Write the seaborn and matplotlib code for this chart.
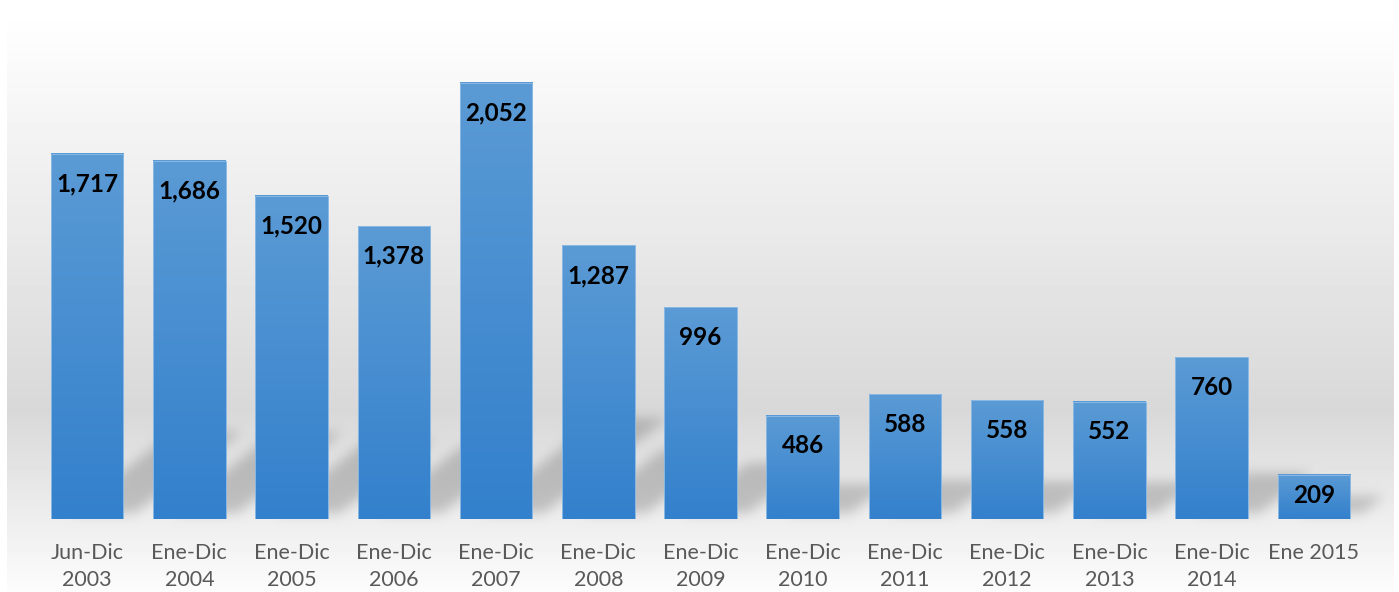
import matplotlib
matplotlib.use("Agg")
import matplotlib.pyplot as plt
import numpy as np
import pandas as pd
import seaborn as sns

# data
periods = ["Jun-Dic\n2003", "Ene-Dic\n2004", "Ene-Dic\n2005", "Ene-Dic\n2006",
           "Ene-Dic\n2007", "Ene-Dic\n2008", "Ene-Dic\n2009", "Ene-Dic\n2010",
           "Ene-Dic\n2011", "Ene-Dic\n2012", "Ene-Dic\n2013", "Ene-Dic\n2014",
           "Ene 2015"]
values = [1717, 1686, 1520, 1378, 2052, 1287, 996, 486, 588, 558, 552, 760, 209]

BAR_TOP = np.array([0x5b, 0x9b, 0xd5]) / 255
BAR_BOTTOM = np.array([0x33, 0x80, 0xcc]) / 255
YMAX = 2352

sns.set_style("white")
plt.rcParams["font.family"] = ["Lato", "DejaVu Sans"]

W, H = 1399, 592
fig = plt.figure(figsize=(W / 100, H / 100), dpi=100)

bg = fig.add_axes([0, 0, 1, 1])
bg.set_xlim(0, W)
bg.set_ylim(0, H)
bg.axis("off")

ax = fig.add_axes([36 / W, 73 / H, 1329 / W, 500 / H])
ax.patch.set_alpha(0)

df = pd.DataFrame({"periodo": periods, "casos": values})
sns.barplot(data=df, x="periodo", y="casos", order=periods, ax=ax,
            color="#4a8fd2", width=0.71, saturation=1,
            edgecolor="#8ab8e4", linewidth=0.7)
ax.set_xlim(-0.5, len(periods) - 0.5)
ax.set_ylim(0, YMAX)

# gradient fill inside each bar
grad = np.linspace(0, 1, 256)[:, None, None]
bar_img = BAR_BOTTOM + (BAR_TOP - BAR_BOTTOM) * grad
for p in ax.patches:
    x0, w, h = p.get_x(), p.get_width(), p.get_height()
    ax.imshow(bar_img, extent=[x0, x0 + w, 0, h], origin="lower",
              aspect="auto", zorder=2, interpolation="nearest")
    p.set_facecolor("none")
    p.set_zorder(3)
ax.set_xlim(-0.5, len(periods) - 0.5)
ax.set_ylim(0, YMAX)
ax.set_aspect("auto")

# value labels inside the bar tops
for i, v in enumerate(values):
    y = max(v - 142, v * 0.53)
    ax.text(i, y, f"{v:,}", ha="center", va="center", fontsize=17.5,
            fontweight="bold", color="black", zorder=4)

ax.set_xlabel("")
ax.set_ylabel("")
ax.set_yticks([])
ax.tick_params(axis="x", length=0, pad=17, labelsize=15.5, labelcolor="#595959")
for t in ax.get_xticklabels():
    t.set_linespacing(1.45)
sns.despine(ax=ax, left=True, bottom=True)

# background gradient + soft slanted shadows behind the bars
xs = np.arange(W) + 0.5
ys = np.arange(H) + 0.5
XX, YY = np.meshgrid(xs, ys)
mask = np.zeros((H, W))
for p in ax.patches:
    (px0, py0), (px1, py1) = ax.transData.transform(
        [[p.get_x(), 0], [p.get_x() + p.get_width(), p.get_height()]])
    hs = 0.2 * (py1 - py0) + 8
    yy = YY - py0 - 6
    inside = (yy >= 0) & (yy <= hs) & (XX >= px0 + 18 + yy * 1.3) & (XX <= px1 + 12 + yy * 1.3)
    mask = np.maximum(mask, inside.astype(float))

sigma = 6
k = np.arange(-18, 19)
kern = np.exp(-k ** 2 / (2 * sigma ** 2))
kern /= kern.sum()
blur = np.zeros_like(mask)
for off, wt in zip(k, kern):
    blur += wt * np.roll(mask, off, axis=1)
mask = blur
blur = np.zeros_like(mask)
for off, wt in zip(k, kern):
    blur += wt * np.roll(mask, off, axis=0)

top_px = H - ys
shade = np.interp(top_px, [0, 11, 410, 592], [255, 255, 216, 252]) / 255
img = shade[:, None] * (1 - 0.19 * blur)
outside = (XX < 7) | (XX > 1394) | ((top_px[:, None] < 11) & np.ones_like(XX, dtype=bool))
img[outside] = 1.0
bg.imshow(img, origin="lower", extent=[0, W, 0, H], cmap="gray",
          vmin=0, vmax=1, aspect="auto", interpolation="nearest")

fig.savefig("out.png", dpi=100)
